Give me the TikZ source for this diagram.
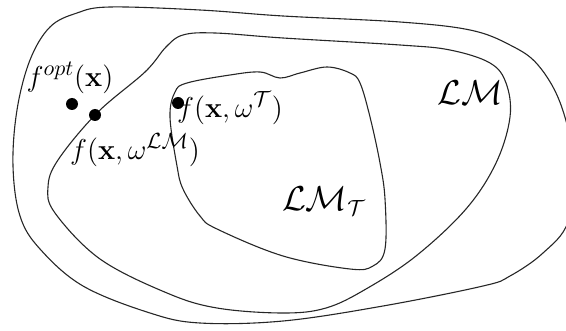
\documentclass[tikz,border=0pt]{standalone}
\usepackage{amsmath,amssymb}
\usepackage{tikz}

\begin{document}
\begin{tikzpicture}[
x=0.5pt, y=-0.5pt,
region/.style={line width=0.55pt, draw=black!85},
pt/.style={circle, fill=black, inner sep=0pt, minimum size=6pt},
lbl/.style={font=\fontsize{15}{18}\selectfont, inner sep=1pt},
setlbl/.style={font=\fontsize{16}{19}\selectfont, inner sep=1pt} ]

\useasboundingbox (0,0) rectangle (566,331);
\clip (0,0) rectangle (566,331);

% the three regions
\draw[region] plot[smooth cycle, tension=0.6] coordinates {
(13,166) (17,110) (30,60) (50,27) (77,13) (110,7) (200,10) (283,16)
(400,22) (470,30) (510,45) (538,65) (561,105) (574,165) (568,222)
(543,253) (510,276) (483,286) (383,306) (283,321) (200,323) (150,313)
(83,286) (40,249) (20,216)};

\draw[region] plot[smooth cycle, tension=0.6] coordinates {
(58,160) (97,113) (145,72) (166,47) (183,35) (215,33) (283,38) (400,45)
(450,50) (490,63) (506,83) (510,117) (496,163) (466,209) (416,256)
(366,289) (326,308) (283,313) (217,308) (167,293) (100,259) (55,213)
(48,187)};

\draw[region] plot[smooth cycle, tension=0.6] coordinates {
(177,166) (170,117) (175,92) (187,83) (230,75) (260,72) (280,78)
(300,73) (327,67) (350,73) (360,83) (370,117) (380,163) (385,199)
(385,249) (373,266) (350,269) (283,256) (217,229) (200,216) (183,189)};

% points
\node[pt] (Popt) at (72,104) {};
\node[pt] (PLM) at (95,115) {};
\node[pt] (PT) at (178,103) {};

% labels
\node[lbl] (Lopt) at (70,78) {$f^{opt}(\mathbf{x})$};
\node[lbl] (LLM) at (135,150) {$f(\mathbf{x},\omega^{\mathcal{LM}})$};
\node[lbl] (LT) at (230,108) {$f(\mathbf{x},\omega^{\mathcal{T}})$};
\node[setlbl] (SLM) at (470,93) {$\mathcal{LM}$};
\node[setlbl] (SLMT) at (324,201) {$\mathcal{LM}_{\mathcal{T}}$};

\end{tikzpicture}
\end{document}
